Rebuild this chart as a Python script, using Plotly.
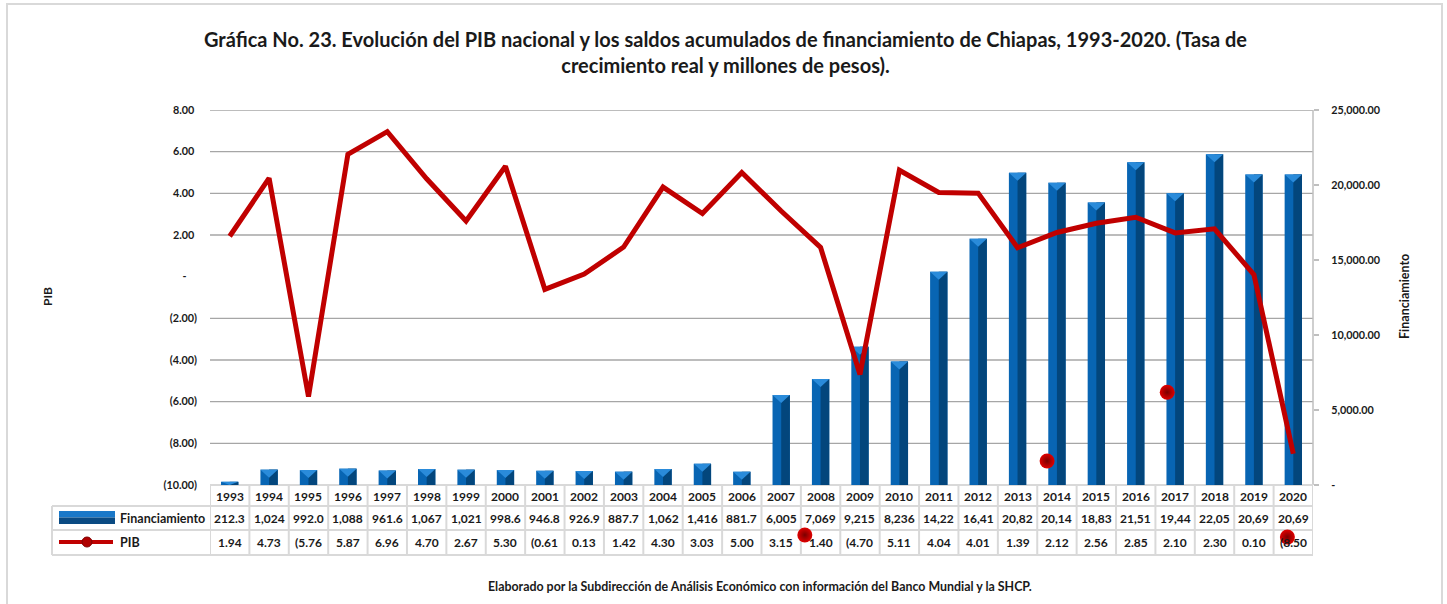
import plotly.graph_objects as go

years = list(range(1993, 2021))
financiamiento = [212.3, 1024.2, 992.0, 1088.4, 961.6, 1067.3, 1021.5, 998.6, 946.8, 926.9,
                  887.7, 1062.1, 1416.3, 881.7, 6005.2, 7069.4, 9215.3, 8236.1, 14225.0, 16415.0,
                  20825.0, 20145.0, 18835.0, 21515.0, 19445.0, 22055.0, 20695.0, 20695.0]
pib = [1.94, 4.73, -5.76, 5.87, 6.96, 4.70, 2.67, 5.30, -0.61, 0.13,
       1.42, 4.30, 3.03, 5.00, 3.15, 1.40, -4.70, 5.11, 4.04, 4.01,
       1.39, 2.12, 2.56, 2.85, 2.10, 2.30, 0.10, -8.50]

# stray marker dots visible in the reference (x in years, y in PIB units)
stray_x = [2007.6, 2013.75, 2016.8, 2019.85]
stray_y = [-12.4, -8.85, -5.55, -12.5]

left_ticks = [8, 6, 4, 2, 0, -2, -4, -6, -8, -10]
left_labels = ["8.00\u00a0", "6.00\u00a0", "4.00\u00a0", "2.00\u00a0", "-\u00a0\u00a0\u00a0\u00a0",
               "(2.00)", "(4.00)", "(6.00)", "(8.00)", "(10.00)"]
right_ticks = [0, 5000, 10000, 15000, 20000, 25000]
right_labels = ["-", "5,000.00", "10,000.00", "15,000.00", "20,000.00", "25,000.00"]

title_text = ("Gráfica No. 23. Evolución del PIB nacional y los saldos acumulados de financiamiento de Chiapas, 1993-2020. (Tasa de"
              "<br>crecimiento real y millones de pesos).")
footer_text = "Elaborado por la Subdirección de Análisis Económico con información del Banco Mundial y la SHCP."

W, H = 1447, 604
PLOT_TOP, AXIS_BOTTOM, AREA_BOTTOM = 110, 485, 560
L, R, T, B = 210, 134, PLOT_TOP, H - AREA_BOTTOM
PW, PH = W - L - R, AREA_BOTTOM - PLOT_TOP
AXH = AXIS_BOTTOM - PLOT_TOP  # height of the value region

PIB_MIN, PIB_MAX = -10, 8
FIN_MIN, FIN_MAX = 0, 25000
ext = PH / AXH
pib_range = [PIB_MAX - (PIB_MAX - PIB_MIN) * ext, PIB_MAX]
fin_range = [FIN_MAX - (FIN_MAX - FIN_MIN) * ext, FIN_MAX]

def px(x):
    return (x - L) / PW

def py(y):
    return (AREA_BOTTOM - y) / PH

FONT = "Lato, Carlito, Calibri, sans-serif"
LIGHT = "#0865B3"
DARK = "#03467C"
TOP = "#2A8BDA"
RED = "#C00000"
GRID = "#A6A6A6"
CELL = "#D9D9D9"
AXC = "#BFBFBF"
TXT = "#1a1a1a"

def fmt_fin(v):
    return f"{v:,.1f}"[:5]

def fmt_pib(v):
    s = f"{v:.2f}" if v >= 0 else f"({abs(v):.2f})"
    return s[:5]

fig = go.Figure()

# bars (primary y axis, drawn on the right): light full body + dark right half
fig.add_trace(go.Bar(x=years, y=financiamiento, yaxis="y", width=0.44, offset=-0.22,
                     marker=dict(color=LIGHT, line=dict(width=0)), name="Financiamiento"))
fig.add_trace(go.Bar(x=years, y=financiamiento, yaxis="y", width=0.22, offset=0,
                     marker=dict(color=DARK, line=dict(width=0)), showlegend=False))

# bevelled tops
tri_h = 8 / AXH * (FIN_MAX - FIN_MIN)
tx, ty = [], []
for yr, v in zip(years, financiamiento):
    h = min(tri_h, v)
    tx += [yr - 0.22, yr + 0.22, yr, yr - 0.22, None]
    ty += [v, v, v - h, v, None]
fig.add_trace(go.Scatter(x=tx, y=ty, yaxis="y", mode="lines", fill="toself",
                         fillcolor=TOP, line=dict(width=0), hoverinfo="skip", showlegend=False))

# PIB line (overlaying axis, drawn on the left, on top of bars)
fig.add_trace(go.Scatter(x=years, y=pib, mode="lines", name="PIB",
                         line=dict(color=RED, width=5), yaxis="y2"))

fig.add_trace(go.Scatter(x=stray_x, y=stray_y, mode="markers", yaxis="y2",
                         marker=dict(size=15, color="#E00000",
                                     gradient=dict(type="radial", color="#7A0000"),
                                     line=dict(width=0)), showlegend=False, hoverinfo="skip"))

shapes = []
# gridlines (no line at zero)
for v in [8, 6, 4, 2, -2, -4, -6, -8]:
    shapes.append(dict(type="line", xref="paper", yref="y2", x0=0, x1=1, y0=v, y1=v,
                       line=dict(color=GRID, width=1.3), layer="below"))
# right value axis line
shapes.append(dict(type="line", xref="paper", yref="y", x0=1, x1=1, y0=FIN_MIN, y1=FIN_MAX,
                   line=dict(color=AXC, width=1.5), layer="below"))

# data table
row_tops = [485, 506, 530, 555]
for i, yy in enumerate(row_tops):
    x0 = px(210) if i == 0 else px(52)
    shapes.append(dict(type="line", xref="paper", yref="paper", x0=x0, x1=1, y0=py(yy), y1=py(yy),
                       line=dict(color=CELL, width=2), layer="below"))
for k in range(len(years) + 1):
    xv = years[0] - 0.5 + k
    shapes.append(dict(type="line", xref="x", yref="paper", x0=xv, x1=xv, y0=py(485), y1=py(555),
                       line=dict(color=CELL, width=2), layer="below"))
shapes.append(dict(type="line", xref="paper", yref="paper", x0=px(52), x1=px(52), y0=py(506), y1=py(555),
                   line=dict(color=CELL, width=2)))

# legend keys
shapes.append(dict(type="rect", xref="paper", yref="paper", x0=px(59), x1=px(115), y0=py(511), y1=py(517.5),
                   fillcolor="#1A78C8", line=dict(width=0)))
shapes.append(dict(type="rect", xref="paper", yref="paper", x0=px(59), x1=px(115), y0=py(517.5), y1=py(524),
                   fillcolor="#0A4A82", line=dict(width=0)))
shapes.append(dict(type="line", xref="paper", yref="paper", x0=px(59), x1=px(113), y0=py(542), y1=py(542),
                   line=dict(color=RED, width=4)))
shapes.append(dict(type="circle", xref="paper", yref="paper", x0=px(82), x1=px(92), y0=py(537), y1=py(547),
                   fillcolor="#B00000", line=dict(color="#800000", width=1)))

# outer border
shapes.append(dict(type="rect", xref="paper", yref="paper", x0=px(7), x1=px(1442), y0=py(4), y1=py(610),
                   line=dict(color=CELL, width=2), fillcolor="rgba(0,0,0,0)"))

annotations = []
tfont = dict(family=FONT, size=12, color=TXT)
for yr, f, p in zip(years, financiamiento, pib):
    annotations.append(dict(x=yr, y=py(496), xref="x", yref="paper", text=f"<b>{yr}</b>",
                            showarrow=False, font=tfont, xanchor="center", yanchor="middle"))
    annotations.append(dict(x=yr, y=py(518), xref="x", yref="paper", text=f"<b>{fmt_fin(f)}</b>",
                            showarrow=False, font=tfont, xanchor="center", yanchor="middle"))
    annotations.append(dict(x=yr, y=py(542.5), xref="x", yref="paper", text=f"<b>{fmt_pib(p)}</b>",
                            showarrow=False, font=tfont, xanchor="center", yanchor="middle"))
annotations.append(dict(x=px(118), y=py(518), xref="paper", yref="paper", text="<b>Financiamiento</b>",
                        showarrow=False, font=dict(family=FONT, size=12.5, color=TXT),
                        xanchor="left", yanchor="middle"))
annotations.append(dict(x=px(118), y=py(542.5), xref="paper", yref="paper", text="<b>PIB</b>",
                        showarrow=False, font=dict(family=FONT, size=12.5, color=TXT),
                        xanchor="left", yanchor="middle"))
# axis titles
annotations.append(dict(x=px(47), y=py(297), xref="paper", yref="paper", text="<b>PIB</b>", textangle=-90,
                        showarrow=False, font=dict(family=FONT, size=12, color=TXT),
                        xanchor="center", yanchor="middle"))
annotations.append(dict(x=px(1404), y=py(297), xref="paper", yref="paper", text="<b>Financiamiento</b>",
                        textangle=-90, showarrow=False, font=dict(family=FONT, size=12.5, color=TXT),
                        xanchor="center", yanchor="middle"))
# title and footer
annotations.append(dict(x=px(725), y=py(52), xref="paper", yref="paper", text=f"<b>{title_text}</b>",
                        showarrow=False, font=dict(family=FONT, size=20, color=TXT),
                        xanchor="center", yanchor="middle", align="center"))
annotations.append(dict(x=px(760), y=py(586), xref="paper", yref="paper", text=f"<b>{footer_text}</b>",
                        showarrow=False, font=dict(family=FONT, size=12.4, color=TXT),
                        xanchor="center", yanchor="middle"))

fig.update_layout(
    width=W, height=H,
    margin=dict(l=L, r=R, t=T, b=B, pad=0),
    paper_bgcolor="white", plot_bgcolor="rgba(0,0,0,0)",
    barmode="overlay", showlegend=False,
    font=dict(family=FONT, color=TXT),
    xaxis=dict(range=[years[0] - 0.5, years[-1] + 0.5], showticklabels=False, showgrid=False,
               zeroline=False, showline=False, ticks=""),
    yaxis=dict(range=fin_range, side="right", tickvals=right_ticks,
               ticktext=[f"<b>{t}</b>" for t in right_labels], showgrid=False, zeroline=False,
               showline=False, ticks="outside", ticklen=5,
               tickcolor=AXC, tickwidth=1.5, tickfont=dict(family=FONT, size=10.8, color=TXT),
               ticklabelstandoff=10),
    yaxis2=dict(range=pib_range, overlaying="y", side="left", tickvals=left_ticks,
                ticktext=[f"<b>{t}</b>" for t in left_labels],
                showgrid=False, zeroline=False, showline=False, ticks="",
                tickfont=dict(family=FONT, size=10.8, color=TXT), ticklabelstandoff=12),
    shapes=shapes, annotations=annotations,
)

fig.write_html("out.html", config={"displayModeBar": False},
               post_script="document.body.style.margin='0';")
